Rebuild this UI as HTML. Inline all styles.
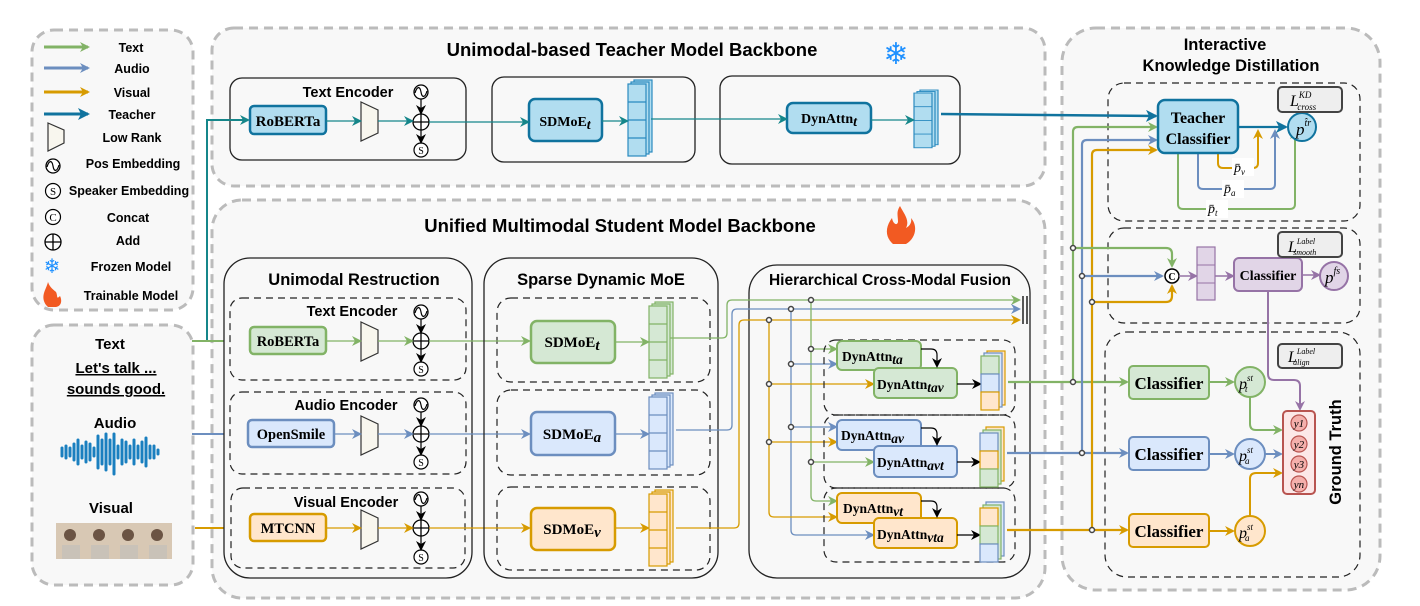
<!DOCTYPE html>
<html><head><meta charset="utf-8"><style>
body{margin:0;background:#fff}
svg{display:block}
.t{font-family:"Liberation Sans",sans-serif;font-weight:bold}
.s{font-family:"Liberation Serif",serif;font-weight:bold}
</style></head><body>
<svg width="1420" height="606" viewBox="0 0 1420 606" xmlns="http://www.w3.org/2000/svg">
<defs>
<marker id="mG" markerWidth="10" markerHeight="10" refX="8" refY="5" orient="auto" markerUnits="userSpaceOnUse"><path d="M0,0 L10,5 L0,10 L3,5z" fill="#82b366"/></marker>
<marker id="mB" markerWidth="10" markerHeight="10" refX="8" refY="5" orient="auto" markerUnits="userSpaceOnUse"><path d="M0,0 L10,5 L0,10 L3,5z" fill="#6c8ebf"/></marker>
<marker id="mO" markerWidth="10" markerHeight="10" refX="8" refY="5" orient="auto" markerUnits="userSpaceOnUse"><path d="M0,0 L10,5 L0,10 L3,5z" fill="#d79b00"/></marker>
<marker id="mT" markerWidth="10" markerHeight="10" refX="8" refY="5" orient="auto" markerUnits="userSpaceOnUse"><path d="M0,0 L10,5 L0,10 L3,5z" fill="#15868a"/></marker>
<marker id="mD" markerWidth="12" markerHeight="12" refX="10" refY="6" orient="auto" markerUnits="userSpaceOnUse"><path d="M0,0 L12,6 L0,12 L3,6z" fill="#10739e"/></marker>
<marker id="mK" markerWidth="10" markerHeight="10" refX="8" refY="5" orient="auto" markerUnits="userSpaceOnUse"><path d="M0,0 L10,5 L0,10 L3,5z" fill="#000"/></marker>
<marker id="mP" markerWidth="10" markerHeight="10" refX="8" refY="5" orient="auto" markerUnits="userSpaceOnUse"><path d="M0,0 L10,5 L0,10 L3,5z" fill="#9673a6"/></marker>
<symbol id="stk" overflow="visible">
<rect x="6" y="0" width="18" height="72"/><rect x="3" y="2" width="18" height="72"/>
<rect x="0" y="4" width="18" height="72"/>
<path d="M0,22H18M0,40H18M0,58H18"/>
</symbol>
<symbol id="pos" overflow="visible"><circle cx="0" cy="0" r="7" fill="#fff" stroke="#000" stroke-width="1.3"/><path d="M-6,1 C-4,-6 -1,-6 0,0 C1,6 4,6 6,-1" fill="none" stroke="#000" stroke-width="1.2"/></symbol>
<symbol id="add" overflow="visible"><circle cx="0" cy="0" r="8" fill="#fff" stroke="#000" stroke-width="1.3"/><path d="M-8,0H8M0,-8V8" stroke="#000" stroke-width="1.3"/></symbol>
<symbol id="spk" overflow="visible"><circle cx="0" cy="0" r="7" fill="#fff" stroke="#000" stroke-width="1.2"/></symbol>
<symbol id="trap" overflow="visible"><path d="M0,0 L17,8 L17,31 L0,39z" fill="#f8f6ee" stroke="#333" stroke-width="1.2"/></symbol>
</defs>

<!-- Legend -->
<rect x="32" y="30" width="161" height="280" rx="22" fill="#f8f8f8" stroke="#bbb" stroke-width="3" stroke-dasharray="9,6"/>
<g stroke-width="3">
<line x1="44" y1="47" x2="88" y2="47" stroke="#82b366" marker-end="url(#mG)"/>
<line x1="44" y1="68" x2="88" y2="68" stroke="#6c8ebf" marker-end="url(#mB)"/>
<line x1="44" y1="92" x2="88" y2="92" stroke="#d79b00" marker-end="url(#mO)"/>
<line x1="44" y1="114" x2="88" y2="114" stroke="#10739e" marker-end="url(#mD)"/>
</g>
<g class="t" font-size="12.5" text-anchor="middle">
<text x="131" y="52">Text</text><text x="132" y="73">Audio</text><text x="132" y="97">Visual</text><text x="132" y="119">Teacher</text>
<text x="132" y="142">Low Rank</text><text x="133" y="168">Pos Embedding</text><text x="129" y="195">Speaker Embedding</text>
<text x="128" y="222">Concat</text><text x="128" y="245">Add</text><text x="131" y="271">Frozen Model</text><text x="131" y="300">Trainable Model</text>
</g>
<path d="M48,123 L64,130 L64,143 L48,151z" fill="#f8f6ee" stroke="#333" stroke-width="1.2"/>
<use href="#pos" x="53" y="166"/>
<circle cx="53" cy="191" r="7.5" fill="#fff" stroke="#000" stroke-width="1.2"/><text x="53" y="195" font-family="Liberation Serif,serif" font-size="11" text-anchor="middle">S</text>
<circle cx="53" cy="217" r="7.5" fill="#fff" stroke="#000" stroke-width="1.2"/><text x="53" y="221" font-family="Liberation Serif,serif" font-size="11" text-anchor="middle">C</text>
<use href="#add" x="53" y="242"/>
<text x="52" y="273" font-size="20" fill="#1e90ff" text-anchor="middle">❄</text>
<path d="M46,305 C40,296 46,290 48,282 C50,288 54,290 56,292 C58,296 56,300 60,296 C62,300 62,306 56,307 L48,307z" fill="#f25a22"/>

<!-- Input box -->
<rect x="32" y="325" width="161" height="260" rx="22" fill="#f8f8f8" stroke="#bbb" stroke-width="3" stroke-dasharray="9,6"/>
<g class="t" font-size="15" text-anchor="middle">
<text x="110" y="349">Text</text>
<text x="116" y="373" text-decoration="underline">Let's talk ...</text>
<text x="116" y="394" text-decoration="underline">sounds good.</text>
<text x="115" y="428">Audio</text>
<text x="111" y="513">Visual</text>
</g>
<g stroke="#1a7fbf" stroke-width="3" stroke-linecap="round">
<path d="M62,448V456M66,446V458M70,448V456M74,444V460M78,440V464M82,446V458M86,442V462M90,444V460M94,448V456M98,436V468M102,440V464M106,434V470M110,440V464M114,434V474M118,446V458M122,440V464M126,442V462M130,446V458M134,440V464M138,446V458M142,442V462M146,438V466M150,446V458M154,446V458M158,450V454"/>
</g>
<rect x="56" y="523" width="116" height="36" fill="#d8c8b4"/>
<g fill="#6b5444"><circle cx="70" cy="535" r="6"/><circle cx="99" cy="535" r="6"/><circle cx="128" cy="535" r="6"/><circle cx="157" cy="535" r="6"/></g>
<g fill="#c9c2b8"><rect x="62" y="545" width="18" height="14"/><rect x="91" y="545" width="18" height="14"/><rect x="120" y="545" width="18" height="14"/><rect x="149" y="545" width="18" height="14"/></g>

<!-- Teacher backbone -->
<rect x="212" y="28" width="833" height="158" rx="22" fill="#f8f8f8" stroke="#bbb" stroke-width="3" stroke-dasharray="9,6"/>
<text x="632" y="56" class="t" font-size="18.5" text-anchor="middle">Unimodal-based Teacher Model Backbone</text>
<text x="896" y="64" font-size="30" fill="#1e90ff" text-anchor="middle">❄</text>
<rect x="230" y="78" width="236" height="82" rx="12" fill="#f8f8f8" stroke="#222" stroke-width="1.3"/>
<text x="348" y="97" class="t" font-size="14.5" text-anchor="middle">Text Encoder</text>
<rect x="250" y="106" width="76" height="28" rx="4" fill="#b1ddf0" stroke="#10739e" stroke-width="2.5"/>
<text x="288" y="126" class="s" font-size="15" text-anchor="middle">RoBERTa</text>
<use href="#trap" x="361" y="102"/>
<rect x="492" y="77" width="203" height="85" rx="12" fill="#f8f8f8" stroke="#222" stroke-width="1.3"/>
<rect x="529" y="99" width="73" height="42" rx="6" fill="#b1ddf0" stroke="#10739e" stroke-width="2.5"/>
<text x="565" y="126" class="s" font-size="14" text-anchor="middle">SDMoE<tspan font-style="italic" dy="3">t</tspan></text>
<use href="#stk" x="628" y="80" fill="#b1ddf0" stroke="#2a8abf" stroke-width="1.2"/>
<rect x="720" y="76" width="240" height="88" rx="12" fill="#f8f8f8" stroke="#222" stroke-width="1.3"/>
<rect x="787" y="103" width="84" height="30" rx="6" fill="#b1ddf0" stroke="#10739e" stroke-width="2.5"/>
<text x="829" y="123" class="s" font-size="14" text-anchor="middle">DynAttn<tspan font-style="italic" dy="3">t</tspan></text>
<g transform="translate(914,90) scale(1,0.76)"><use href="#stk" fill="#b1ddf0" stroke="#2a8abf" stroke-width="1.2"/></g>
<use href="#pos" x="421" y="92"/><use href="#add" x="421" y="122"/><use href="#spk" x="421" y="150"/><text x="421" y="154" font-family="Liberation Serif,serif" font-size="10" text-anchor="middle">S</text>
<g stroke="#15868a" stroke-width="1.3" fill="none">
<line x1="326" y1="121" x2="360" y2="121" marker-end="url(#mT)"/>
<line x1="378" y1="121" x2="412" y2="121" marker-end="url(#mT)"/>
<line x1="429" y1="122" x2="528" y2="122" marker-end="url(#mT)"/>
<line x1="602" y1="121" x2="627" y2="121" marker-end="url(#mT)"/>
<line x1="651" y1="119" x2="786" y2="119" marker-end="url(#mT)"/>
<line x1="871" y1="120" x2="913" y2="120" marker-end="url(#mT)"/>
</g>
<g stroke="#000" stroke-width="1.2" fill="none"><line x1="421" y1="99" x2="421" y2="113" marker-end="url(#mK)"/><line x1="421" y1="130" x2="421" y2="142" marker-end="url(#mK)"/></g>

<!-- Student backbone -->
<rect x="212" y="200" width="833" height="398" rx="30" fill="#f8f8f8" stroke="#bbb" stroke-width="3" stroke-dasharray="9,6"/>
<text x="620" y="232" class="t" font-size="18.5" text-anchor="middle">Unified Multimodal Student Model Backbone</text>
<path d="M893,244 C884,236 886,226 892,218 C893,224 897,226 898,222 C898,216 896,212 900,206 C904,214 910,220 906,228 C910,226 912,222 911,218 C918,226 916,238 906,244z" fill="#f25a22"/>

<!-- input lines -->
<path d="M192,341 H207 V120 H248" stroke="#15868a" stroke-width="2" fill="none" marker-end="url(#mT)"/>
<line x1="192" y1="341" x2="248" y2="341" stroke="#82b366" stroke-width="2" marker-end="url(#mG)"/>
<line x1="192" y1="434" x2="245" y2="434" stroke="#6c8ebf" stroke-width="2" marker-end="url(#mB)"/>
<line x1="195" y1="528" x2="248" y2="528" stroke="#d79b00" stroke-width="2" marker-end="url(#mO)"/>

<!-- Unimodal Restruction -->
<rect x="224" y="258" width="248" height="320" rx="26" fill="#f8f8f8" stroke="#222" stroke-width="1.3"/>
<text x="354" y="285" class="t" font-size="16.5" text-anchor="middle">Unimodal Restruction</text>
<g fill="none" stroke="#222" stroke-width="1.2" stroke-dasharray="7,5">
<rect x="230" y="298" width="236" height="82" rx="12"/><rect x="230" y="392" width="236" height="82" rx="12"/><rect x="231" y="488" width="234" height="80" rx="12"/>
<rect x="497" y="298" width="213" height="84" rx="14"/><rect x="497" y="390" width="213" height="85" rx="14"/><rect x="497" y="487" width="213" height="83" rx="14"/>
</g>
<g class="t" font-size="14.5" text-anchor="middle"><text x="352" y="316">Text Encoder</text><text x="346" y="410">Audio Encoder</text><text x="346" y="507">Visual Encoder</text></g>
<rect x="250" y="327" width="76" height="27" rx="4" fill="#d5e8d4" stroke="#82b366" stroke-width="2.5"/>
<text x="288" y="346" class="s" font-size="14.5" text-anchor="middle">RoBERTa</text>
<rect x="248" y="420" width="86" height="27" rx="4" fill="#dae8fc" stroke="#6c8ebf" stroke-width="2.5"/>
<text x="291" y="439" class="s" font-size="14.5" text-anchor="middle">OpenSmile</text>
<rect x="250" y="514" width="76" height="27" rx="4" fill="#ffe6cc" stroke="#d79b00" stroke-width="2.5"/>
<text x="288" y="533" class="s" font-size="14.5" text-anchor="middle">MTCNN</text>
<use href="#trap" x="361" y="322"/><use href="#trap" x="361" y="416"/><use href="#trap" x="361" y="510"/>
<g font-family="Liberation Serif,serif" font-size="10" text-anchor="middle">
<use href="#pos" x="421" y="312"/><use href="#add" x="421" y="341"/><use href="#spk" x="421" y="369"/><text x="421" y="373">S</text>
<use href="#pos" x="421" y="405"/><use href="#add" x="421" y="434"/><use href="#spk" x="421" y="462"/><text x="421" y="466">S</text>
<use href="#pos" x="421" y="499"/><use href="#add" x="421" y="528"/><use href="#spk" x="421" y="557"/><text x="421" y="561">S</text>
</g>
<g stroke="#000" stroke-width="1.2" fill="none">
<line x1="421" y1="319" x2="421" y2="332" marker-end="url(#mK)"/><line x1="421" y1="349" x2="421" y2="361" marker-end="url(#mK)"/>
<line x1="421" y1="412" x2="421" y2="425" marker-end="url(#mK)"/><line x1="421" y1="442" x2="421" y2="454" marker-end="url(#mK)"/>
<line x1="421" y1="506" x2="421" y2="519" marker-end="url(#mK)"/><line x1="421" y1="536" x2="421" y2="549" marker-end="url(#mK)"/>
</g>
<g stroke-width="1.3" fill="none">
<line x1="326" y1="341" x2="360" y2="341" stroke="#82b366" marker-end="url(#mG)"/><line x1="378" y1="341" x2="412" y2="341" stroke="#82b366" marker-end="url(#mG)"/>
<line x1="429" y1="341" x2="529" y2="341" stroke="#82b366" marker-end="url(#mG)"/><line x1="615" y1="342" x2="648" y2="342" stroke="#82b366" marker-end="url(#mG)"/>
<line x1="334" y1="434" x2="360" y2="434" stroke="#6c8ebf" marker-end="url(#mB)"/><line x1="378" y1="434" x2="412" y2="434" stroke="#6c8ebf" marker-end="url(#mB)"/>
<line x1="429" y1="434" x2="529" y2="434" stroke="#6c8ebf" marker-end="url(#mB)"/><line x1="615" y1="434" x2="648" y2="434" stroke="#6c8ebf" marker-end="url(#mB)"/>
<line x1="326" y1="528" x2="360" y2="528" stroke="#d79b00" marker-end="url(#mO)"/><line x1="378" y1="528" x2="412" y2="528" stroke="#d79b00" marker-end="url(#mO)"/>
<line x1="429" y1="528" x2="529" y2="528" stroke="#d79b00" marker-end="url(#mO)"/><line x1="615" y1="528" x2="648" y2="528" stroke="#d79b00" marker-end="url(#mO)"/>
</g>

<!-- Sparse Dynamic MoE -->
<rect x="484" y="258" width="234" height="320" rx="26" fill="none" stroke="#222" stroke-width="1.3"/>
<text x="601" y="285" class="t" font-size="16.5" text-anchor="middle">Sparse Dynamic MoE</text>
<rect x="531" y="321" width="84" height="42" rx="6" fill="#d5e8d4" stroke="#82b366" stroke-width="2.5"/>
<text x="572" y="347" class="s" font-size="15" text-anchor="middle">SDMoE<tspan font-style="italic" dy="3">t</tspan></text>
<rect x="531" y="412" width="84" height="43" rx="6" fill="#dae8fc" stroke="#6c8ebf" stroke-width="2.5"/>
<text x="572" y="439" class="s" font-size="15" text-anchor="middle">SDMoE<tspan font-style="italic" dy="3">a</tspan></text>
<rect x="531" y="508" width="84" height="42" rx="6" fill="#ffe6cc" stroke="#d79b00" stroke-width="2.5"/>
<text x="572" y="534" class="s" font-size="15" text-anchor="middle">SDMoE<tspan font-style="italic" dy="3">v</tspan></text>
<use href="#stk" x="649" y="302" fill="#d5e8d4" stroke="#82b366" stroke-width="1.2"/>
<use href="#stk" x="649" y="393" fill="#dae8fc" stroke="#6c8ebf" stroke-width="1.2"/>
<use href="#stk" x="649" y="490" fill="#ffe6cc" stroke="#d79b00" stroke-width="1.2"/>

<!-- HCMF -->
<rect x="749" y="265" width="281" height="313" rx="28" fill="none" stroke="#222" stroke-width="1.3"/>
<text x="890" y="285" class="t" font-size="15.5" text-anchor="middle">Hierarchical Cross-Modal Fusion</text>
<g fill="none" stroke-width="1.3">
<path d="M670,338 H722 Q727,338 727,333 V305 Q727,300 732,300 H1019" stroke="#82b366" marker-end="url(#mG)"/>
<path d="M676,430 H727 Q732,430 732,425 V314 Q732,309 737,309 H1019" stroke="#6c8ebf" marker-end="url(#mB)"/>
<path d="M676,528 H734 Q739,528 739,523 V325 Q739,320 744,320 H1019" stroke="#d79b00" marker-end="url(#mO)"/>
<path d="M811,300 V496 Q811,501 816,501 H836" stroke="#82b366" marker-end="url(#mG)"/>
<path d="M811,349 H836" stroke="#82b366" marker-end="url(#mG)"/>
<path d="M811,462 H873" stroke="#82b366" marker-end="url(#mG)"/>
<path d="M791,309 V530 Q791,535 796,535 H873" stroke="#6c8ebf" marker-end="url(#mB)"/>
<path d="M791,364 H836" stroke="#6c8ebf" marker-end="url(#mB)"/>
<path d="M791,427 H836" stroke="#6c8ebf" marker-end="url(#mB)"/>
<path d="M769,320 V512 Q769,517 774,517 H836" stroke="#d79b00" marker-end="url(#mO)"/>
<path d="M769,384 H873" stroke="#d79b00" marker-end="url(#mO)"/>
<path d="M769,442 H836" stroke="#d79b00" marker-end="url(#mO)"/>
</g>
<path d="M1023,296V324M1027,296V324" stroke="#000" stroke-width="1.3"/>
<g fill="#fff" stroke="#444" stroke-width="1.5">
<circle cx="811" cy="300" r="2.5"/><circle cx="791" cy="309" r="2.5"/><circle cx="769" cy="320" r="2.5"/>
<circle cx="811" cy="349" r="2.5"/><circle cx="791" cy="364" r="2.5"/><circle cx="769" cy="384" r="2.5"/>
<circle cx="791" cy="427" r="2.5"/><circle cx="769" cy="442" r="2.5"/><circle cx="811" cy="462" r="2.5"/>
</g>
<g fill="none" stroke="#222" stroke-width="1.2" stroke-dasharray="7,5">
<rect x="824" y="340" width="191" height="75" rx="12"/><rect x="824" y="415" width="191" height="73" rx="12"/><rect x="824" y="488" width="191" height="74" rx="12"/>
</g>
<g stroke-width="2">
<rect x="837" y="341" width="84" height="29" rx="5" fill="#d5e8d4" stroke="#82b366"/>
<rect x="874" y="368" width="83" height="30" rx="5" fill="#d5e8d4" stroke="#82b366"/>
<rect x="837" y="420" width="84" height="30" rx="5" fill="#dae8fc" stroke="#6c8ebf"/>
<rect x="874" y="446" width="83" height="31" rx="5" fill="#dae8fc" stroke="#6c8ebf"/>
<rect x="837" y="493" width="84" height="30" rx="5" fill="#ffe6cc" stroke="#d79b00"/>
<rect x="874" y="518" width="83" height="30" rx="5" fill="#ffe6cc" stroke="#d79b00"/>
</g>
<g class="s" font-size="13.5">
<text x="842" y="361">DynAttn<tspan font-style="italic" dy="3">ta</tspan></text>
<text x="877" y="389">DynAttn<tspan font-style="italic" dy="3">tav</tspan></text>
<text x="841" y="440">DynAttn<tspan font-style="italic" dy="3">av</tspan></text>
<text x="877" y="467">DynAttn<tspan font-style="italic" dy="3">avt</tspan></text>
<text x="843" y="513">DynAttn<tspan font-style="italic" dy="3">vt</tspan></text>
<text x="877" y="539">DynAttn<tspan font-style="italic" dy="3">vta</tspan></text>
</g>
<g fill="none" stroke="#000" stroke-width="1.2">
<path d="M921,349 H931 Q937,349 937,355 V366" marker-end="url(#mK)"/>
<path d="M921,428 H931 Q937,428 937,434 V444" marker-end="url(#mK)"/>
<path d="M921,501 H931 Q937,501 937,507 V516" marker-end="url(#mK)"/>
<line x1="957" y1="384" x2="980" y2="384" marker-end="url(#mK)"/>
<line x1="957" y1="462" x2="979" y2="462" marker-end="url(#mK)"/>
<line x1="957" y1="535" x2="979" y2="535" marker-end="url(#mK)"/>
</g>
<g stroke-width="1.2">
<rect x="987" y="351" width="18" height="54" fill="#ffe6cc" stroke="#d79b00"/><rect x="984" y="353" width="18" height="54" fill="#dae8fc" stroke="#6c8ebf"/>
<rect x="981" y="356" width="18" height="18" fill="#d5e8d4" stroke="#82b366"/><rect x="981" y="374" width="18" height="18" fill="#dae8fc" stroke="#6c8ebf"/><rect x="981" y="392" width="18" height="18" fill="#ffe6cc" stroke="#d79b00"/>
<rect x="986" y="427" width="18" height="54" fill="#ffe6cc" stroke="#d79b00"/><rect x="983" y="430" width="18" height="54" fill="#d5e8d4" stroke="#82b366"/>
<rect x="980" y="433" width="18" height="18" fill="#dae8fc" stroke="#6c8ebf"/><rect x="980" y="451" width="18" height="18" fill="#ffe6cc" stroke="#d79b00"/><rect x="980" y="469" width="18" height="18" fill="#d5e8d4" stroke="#82b366"/>
<rect x="986" y="502" width="18" height="54" fill="#dae8fc" stroke="#6c8ebf"/><rect x="983" y="505" width="18" height="54" fill="#d5e8d4" stroke="#82b366"/>
<rect x="980" y="508" width="18" height="18" fill="#ffe6cc" stroke="#d79b00"/><rect x="980" y="526" width="18" height="18" fill="#d5e8d4" stroke="#82b366"/><rect x="980" y="544" width="18" height="18" fill="#dae8fc" stroke="#6c8ebf"/>
</g>

<!-- IKD -->
<rect x="1062" y="28" width="318" height="562" rx="34" fill="#f8f8f8" stroke="#bbb" stroke-width="3" stroke-dasharray="9,6"/>
<text x="1225" y="50" class="t" font-size="16.5" text-anchor="middle">Interactive</text>
<text x="1231" y="71" class="t" font-size="16.5" text-anchor="middle">Knowledge Distillation</text>
<g fill="none" stroke="#222" stroke-width="1.2" stroke-dasharray="7,5">
<rect x="1108" y="83" width="252" height="138" rx="16"/><rect x="1108" y="228" width="252" height="95" rx="16"/><rect x="1105" y="332" width="255" height="245" rx="22"/>
</g>
<line x1="941" y1="114" x2="1156" y2="116" stroke="#10739e" stroke-width="2.5" marker-end="url(#mD)"/>
<g fill="none" stroke-width="2.2">
<path d="M1008,382 H1127" stroke="#82b366" marker-end="url(#mG)"/>
<path d="M1007,453 H1127" stroke="#6c8ebf" marker-end="url(#mB)"/>
<path d="M1007,530 H1127" stroke="#d79b00" marker-end="url(#mO)"/>
<path d="M1073,382 V132 Q1073,127 1078,127 H1156" stroke="#82b366" marker-end="url(#mG)"/>
<path d="M1082,453 V145 Q1082,140 1087,140 H1156" stroke="#6c8ebf" marker-end="url(#mB)"/>
<path d="M1092,530 V155 Q1092,150 1097,150 H1156" stroke="#d79b00" marker-end="url(#mO)"/>
<path d="M1073,248 H1166 Q1172,248 1172,254 V266" stroke="#82b366" marker-end="url(#mG)"/>
<path d="M1082,276 H1162" stroke="#6c8ebf" marker-end="url(#mB)"/>
<path d="M1092,302 H1166 Q1172,302 1172,296 V286" stroke="#d79b00" marker-end="url(#mO)"/>
</g>
<g fill="#fff" stroke="#444" stroke-width="1.5">
<circle cx="1073" cy="382" r="2.5"/><circle cx="1082" cy="453" r="2.5"/><circle cx="1092" cy="530" r="2.5"/>
<circle cx="1073" cy="248" r="2.5"/><circle cx="1082" cy="276" r="2.5"/><circle cx="1092" cy="302" r="2.5"/>
</g>
<g fill="none" stroke-width="2">
<path d="M1218,153 V163 Q1218,168 1223,168 H1253 Q1258,168 1258,163 V131" stroke="#d79b00" marker-end="url(#mO)"/>
<path d="M1198,153 V184 Q1198,189 1203,189 H1270 Q1275,189 1275,184 V131" stroke="#6c8ebf" marker-end="url(#mB)"/>
<path d="M1178,153 V204 Q1178,209 1183,209 H1290 Q1295,209 1295,204 V131" stroke="#82b366" marker-end="url(#mG)"/>
</g>
<line x1="1238" y1="127" x2="1286" y2="127" stroke="#10739e" stroke-width="2.2" marker-end="url(#mD)"/>
<rect x="1158" y="100" width="80" height="53" rx="7" fill="#b1ddf0" stroke="#10739e" stroke-width="2.5"/>
<text x="1198" y="123" class="s" font-size="16" text-anchor="middle">Teacher</text>
<text x="1198" y="144" class="s" font-size="16" text-anchor="middle">Classifier</text>
<circle cx="1302" cy="127" r="14" fill="#b1ddf0" stroke="#10739e" stroke-width="2"/>
<text x="1296" y="135" font-family="Liberation Serif,serif" font-style="italic" font-size="17">p<tspan font-size="10" dy="-9">t̂r</tspan></text>
<g font-family="Liberation Serif,serif" font-style="italic" font-size="14">
<rect x="1232" y="158" width="22" height="18" fill="#fff"/><text x="1234" y="172">p̄<tspan font-size="9" dy="3">v</tspan></text>
<rect x="1222" y="180" width="22" height="18" fill="#fff"/><text x="1224" y="193">p̄<tspan font-size="9" dy="3">a</tspan></text>
<rect x="1206" y="200" width="22" height="18" fill="#fff"/><text x="1208" y="213">p̄<tspan font-size="9" dy="3">t</tspan></text>
</g>
<rect x="1278" y="87" width="64" height="25" rx="4" fill="#eee" stroke="#444" stroke-width="2"/>
<text x="1290" y="106" font-family="Liberation Serif,serif" font-style="italic" font-size="16">L<tspan font-size="9" dy="-8">KD</tspan><tspan font-size="9" dx="-14" dy="12">cross</tspan></text>
<circle cx="1172" cy="276" r="7" fill="#fff" stroke="#000" stroke-width="1.5"/><text x="1172" y="280" font-family="Liberation Serif,serif" font-size="10" font-weight="bold" text-anchor="middle">C</text>
<g fill="none" stroke="#9673a6" stroke-width="1.5">
<line x1="1179" y1="276" x2="1196" y2="276" marker-end="url(#mP)"/>
<line x1="1215" y1="276" x2="1233" y2="276" marker-end="url(#mP)"/>
<line x1="1302" y1="275" x2="1319" y2="275" marker-end="url(#mP)"/>
</g>
<rect x="1197" y="247" width="18" height="53" fill="#e1d5e7" stroke="#9673a6" stroke-width="1.2"/><path d="M1197,265H1215M1197,283H1215" stroke="#9673a6"/>
<rect x="1234" y="258" width="68" height="33" rx="5" fill="#e1d5e7" stroke="#9673a6" stroke-width="2"/>
<text x="1268" y="280" class="s" font-size="14" text-anchor="middle">Classifier</text>
<circle cx="1334" cy="276" r="14" fill="#e1d5e7" stroke="#9673a6" stroke-width="2"/>
<text x="1325" y="283" font-family="Liberation Serif,serif" font-style="italic" font-size="17">p<tspan font-size="10" dy="-9">fs</tspan></text>
<rect x="1278" y="232" width="64" height="25" rx="4" fill="#eee" stroke="#444" stroke-width="2"/>
<text x="1288" y="252" font-family="Liberation Serif,serif" font-style="italic" font-size="16">L<tspan font-size="8" dy="-8">Label</tspan><tspan font-size="8" dx="-22" dy="11">smooth</tspan></text>
<path d="M1268,291 V374 Q1268,380 1274,380 H1294 Q1300,380 1300,386 V409" fill="none" stroke="#9673a6" stroke-width="2" marker-end="url(#mP)"/>
<rect x="1278" y="344" width="64" height="24" rx="4" fill="#eee" stroke="#444" stroke-width="2"/>
<text x="1288" y="362" font-family="Liberation Serif,serif" font-style="italic" font-size="16">L<tspan font-size="8" dy="-8">Label</tspan><tspan font-size="8" dx="-22" dy="11">align</tspan></text>
<rect x="1129" y="366" width="80" height="33" rx="4" fill="#d5e8d4" stroke="#82b366" stroke-width="2"/>
<rect x="1129" y="437" width="80" height="33" rx="4" fill="#dae8fc" stroke="#6c8ebf" stroke-width="2"/>
<rect x="1129" y="514" width="80" height="33" rx="4" fill="#ffe6cc" stroke="#d79b00" stroke-width="2"/>
<g class="s" font-size="17" text-anchor="middle"><text x="1169" y="389">Classifier</text><text x="1169" y="460">Classifier</text><text x="1169" y="537">Classifier</text></g>
<g fill="none" stroke-width="2">
<line x1="1209" y1="382" x2="1233" y2="382" stroke="#82b366" marker-end="url(#mG)"/>
<line x1="1209" y1="454" x2="1233" y2="454" stroke="#6c8ebf" marker-end="url(#mB)"/>
<line x1="1209" y1="531" x2="1233" y2="531" stroke="#d79b00" marker-end="url(#mO)"/>
<path d="M1250,397 V424 Q1250,430 1256,430 H1281" stroke="#82b366" marker-end="url(#mG)"/>
<line x1="1265" y1="454" x2="1281" y2="454" stroke="#6c8ebf" marker-end="url(#mB)"/>
<path d="M1250,516 V479 Q1250,473 1256,473 H1281" stroke="#d79b00" marker-end="url(#mO)"/>
</g>
<circle cx="1250" cy="382" r="15" fill="#d5e8d4" stroke="#82b366" stroke-width="2"/>
<circle cx="1250" cy="454" r="15" fill="#dae8fc" stroke="#6c8ebf" stroke-width="2"/>
<circle cx="1250" cy="531" r="15" fill="#ffe6cc" stroke="#d79b00" stroke-width="2"/>
<g font-family="Liberation Serif,serif" font-style="italic" font-size="16">
<text x="1239" y="389">p<tspan font-size="9" dy="-8">st</tspan><tspan font-size="9" dx="-8" dy="11">t</tspan></text>
<text x="1239" y="461">p<tspan font-size="9" dy="-8">st</tspan><tspan font-size="9" dx="-8" dy="11">a</tspan></text>
<text x="1239" y="538">p<tspan font-size="9" dy="-8">st</tspan><tspan font-size="9" dx="-8" dy="11">a</tspan></text>
</g>
<rect x="1283" y="411" width="32" height="83" rx="4" fill="#fce8e8" stroke="#b85450" stroke-width="2"/>
<g fill="#f4b0ac" stroke="#b85450" stroke-width="1.2"><circle cx="1299" cy="423" r="8"/><circle cx="1299" cy="444" r="8"/><circle cx="1299" cy="464" r="8"/><circle cx="1299" cy="484" r="8"/></g>
<g font-family="Liberation Serif,serif" font-style="italic" font-size="11" text-anchor="middle"><text x="1299" y="427">y1</text><text x="1299" y="448">y2</text><text x="1299" y="468">y3</text><text x="1299" y="488">yn</text></g>
<text transform="translate(1341,452) rotate(-90)" class="t" font-size="16.5" text-anchor="middle">Ground Truth</text>
</svg>
</body></html>
